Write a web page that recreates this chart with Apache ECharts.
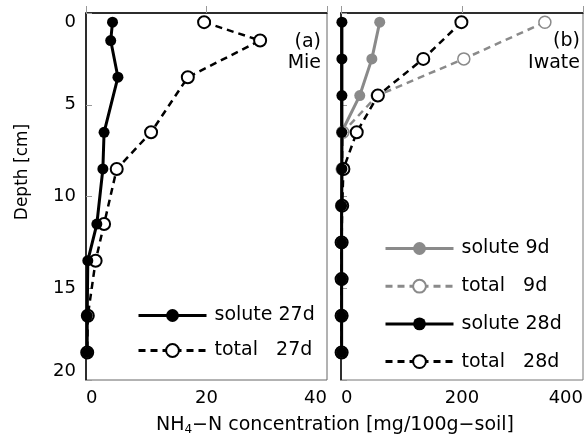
<!DOCTYPE html>
<html><head><meta charset="utf-8">
<script src="https://cdn.jsdelivr.net/npm/echarts@6/dist/echarts.min.js"></script>
<style>html,body{margin:0;padding:0;background:#fff}#c{width:587px;height:439px}</style>
</head><body><div id="c"></div>
<script>
const FONT = '"DejaVu Sans", "Noto Sans", sans-serif';

// Panel (a) Mie
const mieDepth = [0.5, 1.5, 3.5, 6.5, 8.5, 11.5, 13.5, 16.5, 18.5];
const mieSolute27 = [4.4, 4.1, 5.3, 3.0, 2.8, 1.8, 0.3, 0.2, 0.2];
const mieTotal27 = [19.6, 28.9, 16.9, 10.8, 5.1, 3.0, 1.6, 0.3, 0.2];

// Panel (b) Iwate
const iwateDepth = [0.5, 2.5, 4.5, 6.5, 8.5, 10.5, 12.5, 14.5, 16.5, 18.5];
const iwateSolute9 = [64, 51, 31, 1, 1, 1, 1, 1, 1, 1];
const iwateTotal9 = [337, 203, 60, 3, 2, 1, 1, 1, 1, 1];
const iwateSolute28 = [1.5, 1.5, 1.5, 1.5, 1.5, 1, 1, 1, 1, 1];
const iwateTotal28 = [199, 136, 61, 26, 4, 2, 1, 1, 1, 1];

const depthTicks = ['0', '5', '10', '15', '20'];

const zip = (xs, ys) => xs.map((v, i) => [v, ys[i]]);

const GRAY = '#8a8a8a';

function xAxis(grid, max, interval) {
  return {
    gridIndex: grid, type: 'value', min: 0, max: max, interval: interval,
    axisLine: {show: true, lineStyle: {color: '#000', width: 1.5}},
    axisTick: {show: true, inside: true, length: 7, lineStyle: {color: '#999', width: 1}},
    splitLine: {show: false},
    axisLabel: {fontSize: 18, color: '#000', fontFamily: FONT, margin: 9,
      alignMinLabel: 'left', alignMaxLabel: 'right'}
  };
}
function yAxis(grid, showLabel) {
  return {
    gridIndex: grid, type: 'value', inverse: true, min: 0, max: 20, interval: 5,
    axisLine: {show: true, lineStyle: {color: '#000', width: 1.5}},
    axisTick: {show: true, inside: true, length: 6, lineStyle: {color: '#999', width: 1}},
    splitLine: {show: false},
    axisLabel: {show: showLabel, fontSize: 18, color: '#000', fontFamily: FONT, margin: 10,
      verticalAlignMinLabel: 'top', verticalAlignMaxLabel: 'bottom',
      formatter: v => depthTicks[Math.round(v / 5)]}
  };
}

function solid(name, g, data, color, z) {
  return {name, type: 'line', xAxisIndex: g, yAxisIndex: g, data, z,
    symbol: 'circle', symbolSize: 11, showSymbol: true,
    lineStyle: {color, width: 3}, itemStyle: {color, borderWidth: 0},
    emphasis: {disabled: true}};
}
function dashed(name, g, data, color, bw, z) {
  return {name, type: 'line', xAxisIndex: g, yAxisIndex: g, data, z,
    symbol: 'circle', symbolSize: 12, showSymbol: true,
    lineStyle: {color, width: 2.5, type: [7, 5]},
    itemStyle: {color: '#fff', borderColor: color, borderWidth: bw},
    emphasis: {disabled: true}};
}

const legendText = {fontSize: 19, color: '#000', fontFamily: FONT, padding: [0, 0, 0, 3]};

const chart = echarts.init(document.getElementById('c'), null, {renderer: 'canvas'});
chart.setOption({
  animation: false,
  backgroundColor: '#fff',
  textStyle: {fontFamily: FONT},
  grid: [
    {left: 86, top: 13, width: 241, height: 367, show: true, borderColor: '#666', borderWidth: 1, containLabel: false, outerBoundsMode: 'none'},
    {left: 341, top: 13, width: 242, height: 367, show: true, borderColor: '#777', borderWidth: 1, containLabel: false, outerBoundsMode: 'none'}
  ],
  xAxis: [xAxis(0, 40, 20), xAxis(1, 400, 200)],
  yAxis: [yAxis(0, true), yAxis(1, false)],
  legend: [
    {data: ['solute 27d', 'total   27d'], orient: 'vertical', left: 137, top: 306, padding: 0,
      itemWidth: 68, itemHeight: 16, itemGap: 16, selectedMode: false,
      lineStyle: {width: 3}, textStyle: legendText},
    {data: ['solute 9d', 'total   9d', 'solute 28d', 'total   28d'], orient: 'vertical', left: 384, top: 239, padding: 0,
      itemWidth: 68, itemHeight: 16, itemGap: 18.7, selectedMode: false,
      lineStyle: {width: 3}, textStyle: legendText}
  ],
  graphic: [
    {type: 'text', right: 266, top: 33, style: {text: '(a)', fontSize: 19, fontFamily: FONT, fill: '#000'}},
    {type: 'text', right: 266, top: 54, style: {text: 'Mie', fontSize: 19, fontFamily: FONT, fill: '#000'}},
    {type: 'text', right: 7, top: 32, style: {text: '(b)', fontSize: 19, fontFamily: FONT, fill: '#000'}},
    {type: 'text', right: 7, top: 54, style: {text: 'Iwate', fontSize: 19, fontFamily: FONT, fill: '#000'}},
    {type: 'text', x: 23, y: 172, rotation: Math.PI / 2,
      style: {text: 'Depth [cm]', fontSize: 17, fontFamily: FONT, fill: '#000', align: 'center', verticalAlign: 'middle'}},
    {type: 'text', x: 335, y: 425,
      style: {text: '{n|NH}{s|4}{n|−N concentration [mg/100g−soil]}', align: 'center', verticalAlign: 'middle',
        fill: '#000', fontFamily: FONT,
        rich: {n: {fontSize: 19, fontFamily: FONT, fill: '#000'}, s: {fontSize: 12, fontFamily: FONT, fill: '#000', verticalAlign: 'bottom', padding: [9, 0, 0, 0]}}}}
  ],
  series: [
    dashed('total   27d', 0, zip(mieTotal27, mieDepth), '#000', 2, 2),
    solid('solute 27d', 0, zip(mieSolute27, mieDepth), '#000', 3),
    solid('solute 9d', 1, zip(iwateSolute9, iwateDepth), GRAY, 2),
    dashed('total   9d', 1, zip(iwateTotal9, iwateDepth), GRAY, 1.5, 2),
    dashed('total   28d', 1, zip(iwateTotal28, iwateDepth), '#000', 2, 3),
    solid('solute 28d', 1, zip(iwateSolute28, iwateDepth), '#000', 4)
  ]
});
</script></body></html>
